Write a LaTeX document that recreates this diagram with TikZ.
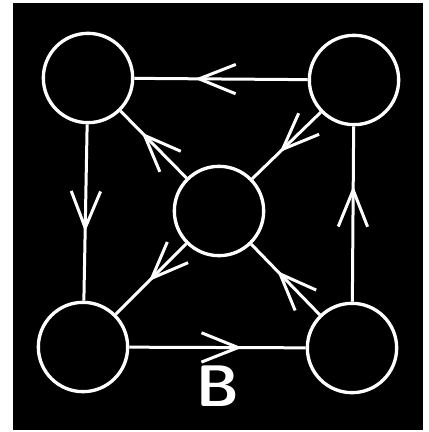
\documentclass[tikz,border=0pt]{standalone}
\usetikzlibrary{arrows.meta,decorations.markings}
\tikzset{
	noeud/.style={circle, draw=white, line width=0.1cm, minimum size=2.68cm, inner sep=0pt},
	fleche/.style={draw=white, line width=0.09cm, postaction={decorate},
		decoration={markings, mark=at position #1 with {\arrow{Straight Barb[length=1.1cm, width=0.88cm, color=white]}}}},
	fleche/.default=0.62
}
\begin{document}
\begin{tikzpicture}[x=0.03cm, y=-0.03cm]%graphe B
		
		\useasboundingbox (0,0) rectangle (428,432);
		\fill[black] (13,3) rectangle (423,430);
		
		\node[noeud] (nw) at (88,78) {};
		\node[noeud] (ne) at (354,80) {};
		\node[noeud] (c) at (219,211) {};
		\node[noeud] (sw) at (83,347) {};
		\node[noeud] (se) at (352,348) {};
		
		\draw[fleche=0.65] (ne) -- (nw);
		\draw[fleche=0.61] (nw) -- (sw);
		\draw[fleche=0.64] (sw) -- (se);
		\draw[fleche=0.66] (se) -- (ne);
		
		\draw[fleche=0.68] (c) -- (nw);
		\draw[fleche=0.6] (ne) -- (c);
		\draw[fleche=0.53] (c) -- (sw);
		\draw[fleche=0.62] (se) -- (c);
		
		\node[text=white, font=\sffamily\bfseries\fontsize{50}{50}\selectfont] (lettre) at (218,386) {B};
	\end{tikzpicture}
\end{document}
